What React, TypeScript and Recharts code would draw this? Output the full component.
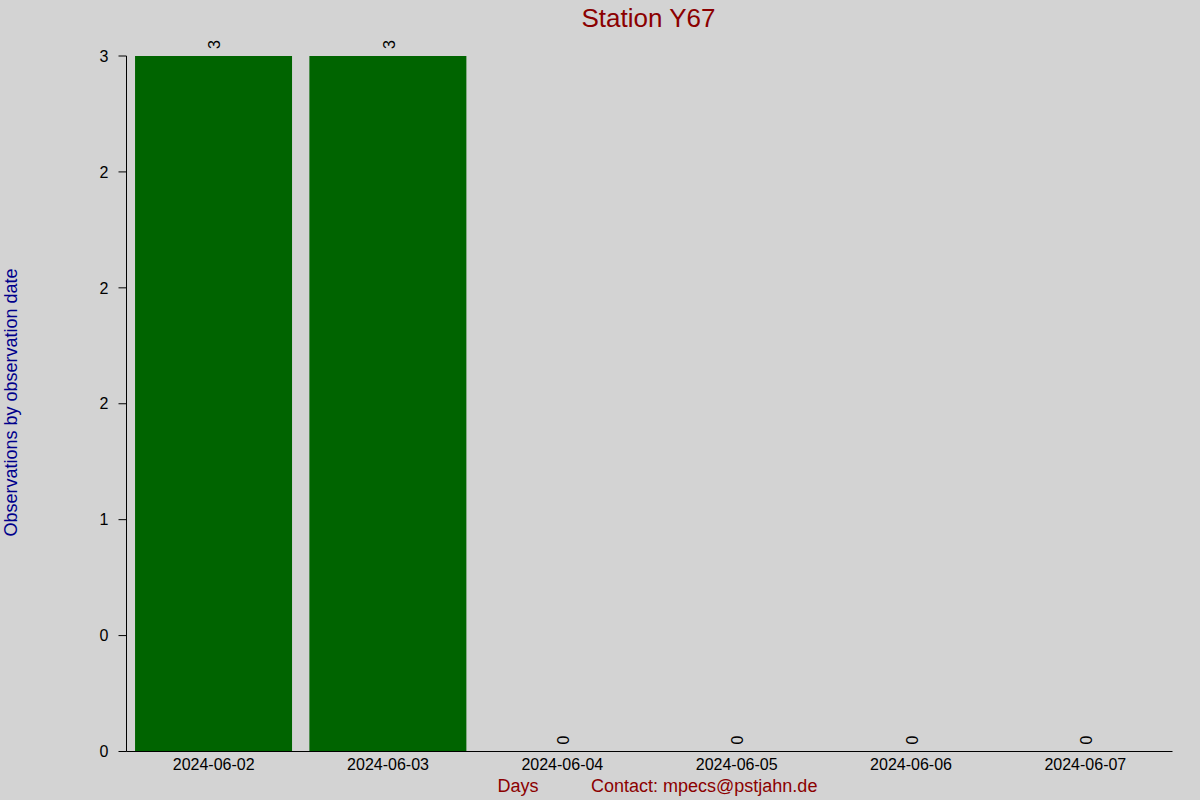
import React from "react";
import { ComposedChart, Bar, Line, XAxis, YAxis, LabelList } from "recharts";

const categories = ["2024-06-02", "2024-06-03", "2024-06-04", "2024-06-05", "2024-06-06", "2024-06-07"];
const observations = [3, 3, 0, 0, 0, 0];
const yTickValues = [0, 0.5, 1, 1.5, 2, 2.5, 3];
const yTickLabels = ["0", "0", "1", "2", "2", "2", "3"];

const data = categories.map((day, i) => ({ day, count: observations[i] }));

const FONT = "'Liberation Sans', Arial, sans-serif";

const ValueLabel = (props: any) => {
  const { x, y, value } = props;
  const cx = Number(x) + 1;
  const cy = Number(y) - 11.5;
  return (
    <text
      x={cx}
      y={cy}
      textAnchor="middle"
      dominantBaseline="central"
      transform={`rotate(-90, ${cx}, ${cy})`}
      fontSize={16}
      fontFamily={FONT}
      fill="#000"
    >
      {value}
    </text>
  );
};

export default function App() {
  return (
    <div
      style={{
        position: "absolute",
        left: 0,
        top: 0,
        width: 1200,
        height: 800,
        background: "#d3d3d3",
        fontFamily: FONT,
      }}
    >
      <ComposedChart
        width={1200}
        height={800}
        data={data}
        margin={{ top: 56, right: 27.5, bottom: 18.5, left: 0.5 }}
        barCategoryGap="4.9%"
      >
        <XAxis
          dataKey="day"
          height={30}
          stroke="#000"
          axisLine={{ stroke: "#000", strokeWidth: 1 }}
          tickLine={false}
          tickSize={5}
          tickMargin={2}
          tick={{ fill: "#000", fontSize: 16, fontFamily: FONT }}
          interval={0}
        />
        <YAxis
          width={126}
          domain={[0, 3]}
          ticks={yTickValues}
          stroke="#000"
          tickFormatter={(v: number) => yTickLabels[yTickValues.indexOf(v)] ?? String(v)}
          axisLine={{ stroke: "#000", strokeWidth: 1 }}
          tickLine={{ stroke: "#000", strokeWidth: 1 }}
          tickSize={8}
          tickMargin={10}
          tick={{ fill: "#000", fontSize: 16, fontFamily: FONT }}
          interval={0}
        />
        <Bar dataKey="count" fill="#006400" isAnimationActive={false} />
        <Line
          dataKey="count"
          stroke="none"
          dot={false}
          activeDot={false}
          isAnimationActive={false}
        >
          <LabelList dataKey="count" content={<ValueLabel />} />
        </Line>
      </ComposedChart>
      <svg
        width={1200}
        height={800}
        style={{ position: "absolute", left: 0, top: 0, pointerEvents: "none" }}
      >
        <text x={648.5} y={27} textAnchor="middle" fontSize={26} fontFamily={FONT} fill="#8b0000">
          Station Y67
        </text>
        <text x={497.5} y={792} fontSize={18} fontFamily={FONT} fill="#8b0000">
          Days
        </text>
        <text x={591} y={792} fontSize={18} fontFamily={FONT} fill="#8b0000">
          Contact: mpecs@pstjahn.de
        </text>
        <text
          x={16.5}
          y={402.5}
          textAnchor="middle"
          transform="rotate(-90, 16.5, 402.5)"
          fontSize={18}
          fontFamily={FONT}
          fill="#00008b"
        >
          Observations by observation date
        </text>
      </svg>
    </div>
  );
}
